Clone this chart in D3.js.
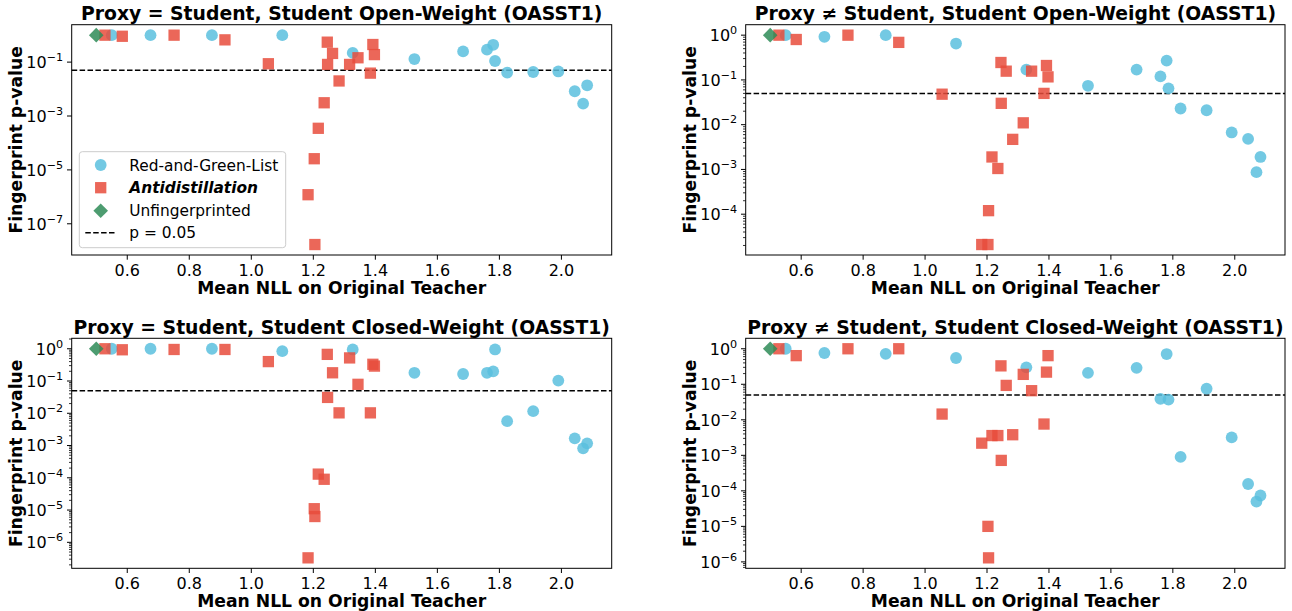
<!DOCTYPE html>
<html>
<head>
<meta charset="utf-8">
<script src="https://cdn.jsdelivr.net/npm/d3@7"></script>
<style>
  html, body { margin: 0; padding: 0; background: #fff; }
  svg { display: block; }
  text { font-family: "DejaVu Sans", sans-serif; fill: #000; }
</style>
</head>
<body>
<svg id="chart" width="1292" height="611"></svg>
<script>
// ---------------- DATA ----------------
// x: Mean NLL on Original Teacher (shared across panels)
const xRedGreen = [0.55, 0.675, 0.873, 1.10, 1.327, 1.526, 1.683, 1.76, 1.78, 1.786, 1.825, 1.909, 1.99, 2.043, 2.07, 2.083];
const xAntidist = [0.528, 0.584, 0.751, 0.915, 1.055, 1.183, 1.203, 1.205, 1.216, 1.235, 1.245, 1.246, 1.262, 1.283, 1.317, 1.344, 1.384, 1.392, 1.397];
const xUnfp = [0.5];

// p-values, panel 1: Proxy = Student, Open-Weight
const rgP1 = [1.0, 1.0, 1.0, 1.0, 0.22, 0.13, 0.25, 0.29, 0.44, 0.11, 0.041, 0.043, 0.045, 0.0083, 0.0029, 0.0138];
const adP1 = [1.0, 0.91, 1.0, 0.67, 0.087, 1.2e-6, 2.6e-5, 1.7e-8, 3.5e-4, 0.0031, 0.55, 0.082, 0.21, 0.02, 0.082, 0.145, 0.039, 0.45, 0.19];
// panel 2: Proxy != Student, Open-Weight
const rgP2 = [1.0, 0.92, 1.0, 0.65, 0.17, 0.074, 0.17, 0.12, 0.27, 0.065, 0.023, 0.021, 0.0067, 0.0048, 0.00087, 0.0019];
const adP2 = [1.0, 0.8, 1.0, 0.69, 0.048, 2.1e-5, 2.1e-5, 1.2e-4, 0.0019, 0.00105, 0.245, 0.03, 0.157, 0.0047, 0.011, 0.157, 0.05, 0.21, 0.117];
// panel 3: Proxy = Student, Closed-Weight
const rgP3 = [1.0, 1.0, 1.0, 0.84, 0.95, 0.18, 0.165, 0.18, 0.2, 0.95, 0.0057, 0.0116, 0.103, 0.00167, 0.00082, 0.00117];
const adP3 = [1.0, 0.93, 0.95, 0.95, 0.4, 3.3e-7, 1.1e-5, 6.3e-6, 1.3e-4, 9e-5, 0.67, 0.031, 0.18, 0.0103, 0.52, 0.079, 0.0103, 0.33, 0.29];
// panel 4: Proxy != Student, Closed-Weight
const rgP4 = [1.0, 0.76, 0.72, 0.55, 0.3, 0.21, 0.29, 0.039, 0.71, 0.037, 0.0009, 0.075, 0.0032, 1.56e-4, 5e-5, 7.4e-5];
const adP4 = [1.0, 0.64, 1.0, 1.0, 0.0145, 0.0022, 1e-5, 1.3e-6, 0.0036, 0.0036, 0.33, 0.00072, 0.093, 0.0038, 0.19, 0.066, 0.0076, 0.22, 0.64];
const ufVal = [1.0];

const titles = [
  "Proxy = Student, Student Open-Weight (OASST1)",
  "Proxy \u2260 Student, Student Open-Weight (OASST1)",
  "Proxy = Student, Student Closed-Weight (OASST1)",
  "Proxy \u2260 Student, Student Closed-Weight (OASST1)"
];
const xTicks = [0.6, 0.8, 1.0, 1.2, 1.4, 1.6, 1.8, 2.0];
const threshold = 0.05;
const legendLabels = ["Red-and-Green-List", "Antidistillation", "Unfingerprinted", "p = 0.05"];
const xLabel = "Mean NLL on Original Teacher";
const yLabel = "Fingerprint p-value";

// ---------------- STYLE / LAYOUT ----------------
const colRG = "#5BC0DE", colAD = "#E74C3C", colUF = "#2E8B57", alpha = 0.85;
const fsTitle = 18.8, fsLabel = 17.2, fsTick = 16, fsSup = 11.2, fsLegend = 15.4;
const layout = [
  {l: 71.7, r: 611.7, t: 24.7, b: 255},
  {l: 745.7, r: 1285, t: 24.7, b: 255},
  {l: 71.7, r: 611.7, t: 338.3, b: 568.3},
  {l: 745.7, r: 1285, t: 338.3, b: 568.3}
];
const rgSets = [rgP1, rgP2, rgP3, rgP4];
const adSets = [adP1, adP2, adP3, adP4];
const skipDecades = [true, false, false, false];

const svg = d3.select("#chart");

function sup(textSel, exp) {
  textSel.text(null);
  textSel.append("tspan").text("10");
  textSel.append("tspan").attr("dy", -7).attr("font-size", fsSup)
    .text(exp < 0 ? "\u2212" + (-exp) : String(exp));
}

layout.forEach((L, i) => {
  const rg = rgSets[i], ad = adSets[i];
  const allX = xRedGreen.concat(xAntidist, xUnfp);
  const xmin = d3.min(allX), xmax = d3.max(allX), xp = (xmax - xmin) * 0.05;
  const x = d3.scaleLinear().domain([xmin - xp, xmax + xp]).range([L.l, L.r]);
  const logs = rg.concat(ad, ufVal, [threshold]).map(Math.log10);
  const lmin = d3.min(logs), lmax = d3.max(logs), lp = (lmax - lmin) * 0.05;
  const y = d3.scaleLog().domain([Math.pow(10, lmin - lp), Math.pow(10, lmax + lp)]).range([L.b, L.t]);

  const g = svg.append("g");

  // threshold line
  g.append("line")
    .attr("x1", L.l).attr("x2", L.r)
    .attr("y1", y(threshold)).attr("y2", y(threshold))
    .attr("stroke", "#000").attr("stroke-width", 1.5).attr("stroke-dasharray", "5.5,2.4");

  // circles
  g.selectAll("circle.rg").data(xRedGreen.map((v, k) => [v, rg[k]])).enter()
    .append("circle").attr("class", "rg")
    .attr("cx", d => x(d[0])).attr("cy", d => y(d[1])).attr("r", 5.9)
    .attr("fill", colRG).attr("fill-opacity", alpha);
  // squares
  const s = 11.3;
  g.selectAll("rect.ad").data(xAntidist.map((v, k) => [v, ad[k]])).enter()
    .append("rect").attr("class", "ad")
    .attr("x", d => x(d[0]) - s / 2).attr("y", d => y(d[1]) - s / 2)
    .attr("width", s).attr("height", s)
    .attr("fill", colAD).attr("fill-opacity", alpha);
  // diamond
  const dd = 7.3;
  g.selectAll("path.uf").data(xUnfp.map((v, k) => [v, ufVal[k]])).enter()
    .append("path").attr("class", "uf")
    .attr("d", d => {
      const cx = x(d[0]), cy = y(d[1]);
      return `M${cx},${cy - dd}L${cx + dd},${cy}L${cx},${cy + dd}L${cx - dd},${cy}Z`;
    })
    .attr("fill", colUF).attr("fill-opacity", alpha);

  // spines
  g.append("rect").attr("x", L.l).attr("y", L.t).attr("width", L.r - L.l).attr("height", L.b - L.t)
    .attr("fill", "none").attr("stroke", "#000").attr("stroke-width", 1);

  // x axis ticks
  xTicks.forEach(t => {
    const px = x(t);
    g.append("line").attr("x1", px).attr("x2", px).attr("y1", L.b).attr("y2", L.b + 4.7)
      .attr("stroke", "#000").attr("stroke-width", 1);
    g.append("text").attr("x", px).attr("y", L.b + 20.5).attr("text-anchor", "middle")
      .attr("font-size", fsTick).text(t.toFixed(1));
  });

  // y ticks
  const [d0, d1] = y.domain().map(Math.log10);
  const majors = [];
  for (let k = Math.ceil(d0); k <= Math.floor(d1); k++) {
    if (skipDecades[i] && (k % 2 === 0)) continue;
    majors.push(k);
  }
  majors.forEach(k => {
    const py = y(Math.pow(10, k));
    g.append("line").attr("x1", L.l - 4.7).attr("x2", L.l).attr("y1", py).attr("y2", py)
      .attr("stroke", "#000").attr("stroke-width", 1);
    const tx = g.append("text").attr("x", L.l - 8.5).attr("y", py + 5.8).attr("text-anchor", "end")
      .attr("font-size", fsTick);
    sup(tx, k);
  });
  if (!skipDecades[i]) {
    for (let k = Math.floor(d0); k <= Math.ceil(d1); k++) {
      for (let j = 2; j <= 9; j++) {
        const v = Math.log10(j) + k;
        if (v < d0 || v > d1) continue;
        const py = y(Math.pow(10, v));
        g.append("line").attr("x1", L.l - 2.7).attr("x2", L.l).attr("y1", py).attr("y2", py)
          .attr("stroke", "#000").attr("stroke-width", 0.8);
      }
    }
  }

  // labels
  g.append("text").attr("x", (L.l + L.r) / 2).attr("y", L.b + 38.5).attr("text-anchor", "middle")
    .attr("font-size", fsLabel).attr("font-weight", "bold").text(xLabel);
  g.append("text").attr("transform", `translate(${L.l - 50},${(L.t + L.b) / 2}) rotate(-90)`)
    .attr("text-anchor", "middle").attr("font-size", fsLabel).attr("font-weight", "bold").text(yLabel);
  g.append("text").attr("x", (L.l + L.r) / 2).attr("y", L.t - 4.8).attr("text-anchor", "middle")
    .attr("font-size", fsTitle).attr("font-weight", "bold").text(titles[i]);

  // legend (first panel)
  if (i === 0) {
    const lx = 79.3, ly = 151.7, lw = 206.4, lh = 96;
    const lg = g.append("g");
    lg.append("rect").attr("x", lx).attr("y", ly).attr("width", lw).attr("height", lh)
      .attr("rx", 3).attr("fill", "#fff").attr("fill-opacity", 0.8)
      .attr("stroke", "#ccc").attr("stroke-width", 1);
    const rows = [13.3, 36, 59, 81];
    const mx = lx + 21.4, tx = lx + 50;
    lg.append("circle").attr("cx", mx).attr("cy", ly + rows[0]).attr("r", 5.9)
      .attr("fill", colRG).attr("fill-opacity", alpha);
    lg.append("rect").attr("x", mx - s / 2).attr("y", ly + rows[1] - s / 2).attr("width", s).attr("height", s)
      .attr("fill", colAD).attr("fill-opacity", alpha);
    lg.append("path").attr("d", `M${mx},${ly + rows[2] - dd}L${mx + dd},${ly + rows[2]}L${mx},${ly + rows[2] + dd}L${mx - dd},${ly + rows[2]}Z`)
      .attr("fill", colUF).attr("fill-opacity", alpha);
    lg.append("line").attr("x1", lx + 6).attr("x2", lx + 37).attr("y1", ly + rows[3]).attr("y2", ly + rows[3])
      .attr("stroke", "#000").attr("stroke-width", 1.5).attr("stroke-dasharray", "5.5,2.4");
    legendLabels.forEach((t, k) => {
      const te = lg.append("text").attr("x", tx).attr("y", ly + rows[k] + 5.6).attr("font-size", fsLegend).text(t);
      if (k === 1) te.attr("font-weight", "bold").attr("font-style", "italic");
    });
  }
});
</script>
</body>
</html>
